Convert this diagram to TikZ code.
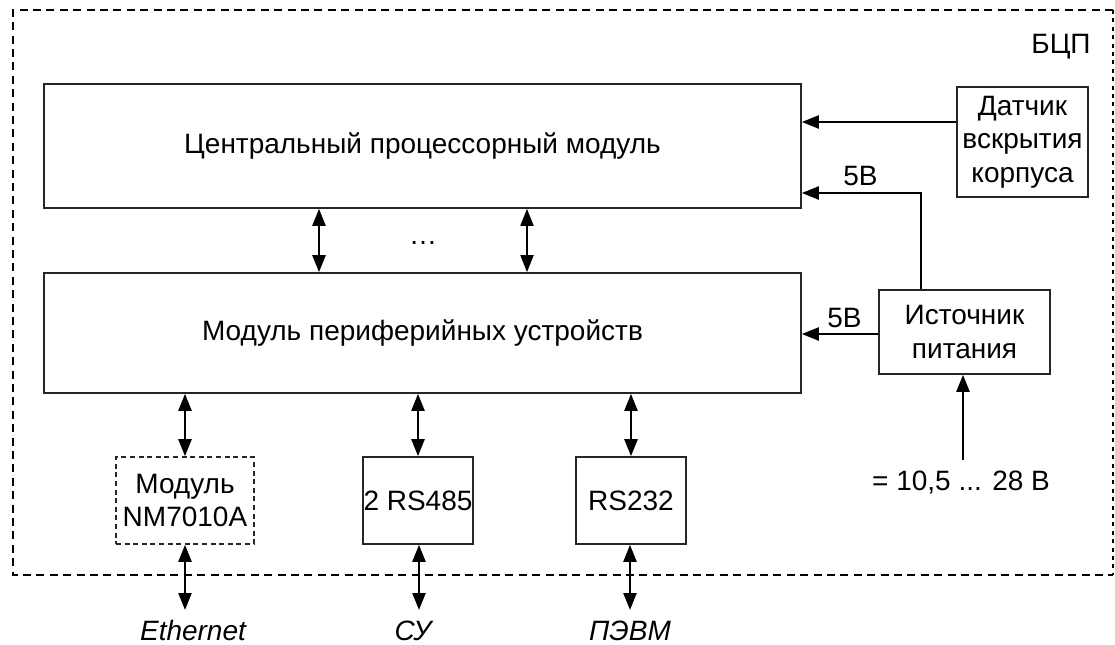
\documentclass[tikz,border=0pt]{standalone}
\usepackage{fontspec}
\setmainfont{Liberation Sans}
\usetikzlibrary{arrows.meta}
\begin{document}
\begin{tikzpicture}[x=0.5pt,y=-0.5pt,
  font=\fontsize{14}{16.75}\selectfont,
  box/.style={draw=black!85, line width=0.8pt, inner sep=0pt, align=center},
  arr/.style={line width=1.15pt, -{Triangle[length=8.5pt,width=6.5pt]}},
  biarr/.style={line width=1.15pt, {Triangle[length=8.5pt,width=6.5pt]}-{Triangle[length=8.5pt,width=6.5pt]}},
  lbl/.style={inner sep=0pt}]
\useasboundingbox (0,0) rectangle (1115,644);
% outer dashed border
\draw[line width=1pt, dash pattern=on 4pt off 2.7pt] (1113,10) -- (13,10) -- (13,575) -- (1113,575);
\draw[line width=1pt, dash pattern=on 2pt off 2.2pt] (1113,10) -- (1113,575);
\node[lbl] (bcp) at (1061,47) {БЦП};
% boxes
\node[box, minimum width=378.5pt, minimum height=62pt] (cpu) at (422.5,146) {Центральный процессорный модуль};
\node[box, minimum width=378.5pt, minimum height=60pt] (per) at (422.5,333) {Модуль периферийных устройств};
\node[box, minimum width=65.5pt, minimum height=55pt] (dat) at (1022.5,142) {Датчик\\вскрытия\\корпуса};
\node[box, minimum width=85.5pt, minimum height=42pt] (src) at (964.5,332) {Источник\\питания};
\node[box, dash pattern=on 2.5pt off 1.8pt, minimum width=69pt, minimum height=43.5pt] (nm) at (185,500.5) {Модуль\\NM7010A};
\node[box, minimum width=55pt, minimum height=43.5pt] (rs485) at (418,500.5) {2 RS485};
\node[box, minimum width=55pt, minimum height=43.5pt] (rs232) at (631,500.5) {RS232};
% dots
\node[lbl, anchor=base] (dots) at (423,244) {…};
% cpu <-> per
\draw[biarr] (cpu.south -| 319,0) -- (per.north -| 319,0);
\draw[biarr, line width=0.9pt] (cpu.south -| 527,0) -- (per.north -| 527,0);
% datchik -> cpu
\draw[arr] (dat.west |- 0,122) -- (cpu.east |- 0,122);
% power
\draw[arr] (src.north -| 921,0) |- (cpu.east |- 0,193);
\node[lbl, anchor=base west] (v5a) at (843,185) {5В};
\draw[arr] (src.west |- 0,334) -- (per.east |- 0,334);
\node[lbl, anchor=base west] (v5b) at (827,327) {5В};
\coordinate (inp) at (963,460);
\draw[arr] (inp) -- (src.south -| inp);
\node[lbl] (inlbl) at (961,483) {= 10,5 ... 28 В};
% bottom
\draw[biarr] (per.south -| nm.north) -- (nm.north);
\draw[biarr] (per.south -| rs485.north) -- (rs485.north);
\draw[biarr] (per.south -| rs232.north) -- (rs232.north);
\coordinate (e1) at (185,610);
\coordinate (e2) at (419,610);
\coordinate (e3) at (630,610);
\draw[biarr] (nm.south) -- (e1);
\draw[biarr] (rs485.south -| e2) -- (e2);
\draw[biarr] (rs232.south -| e3) -- (e3);
\node[lbl, anchor=base, font=\fontsize{14}{16.75}\selectfont\itshape] (eth) at (193,640) {Ethernet};
\node[lbl, anchor=base, font=\fontsize{14}{16.75}\selectfont\itshape] (su) at (413,640) {СУ};
\node[lbl, anchor=base, font=\fontsize{14}{16.75}\selectfont\itshape] (pc) at (630,640) {ПЭВМ};
\end{tikzpicture}
\end{document}
